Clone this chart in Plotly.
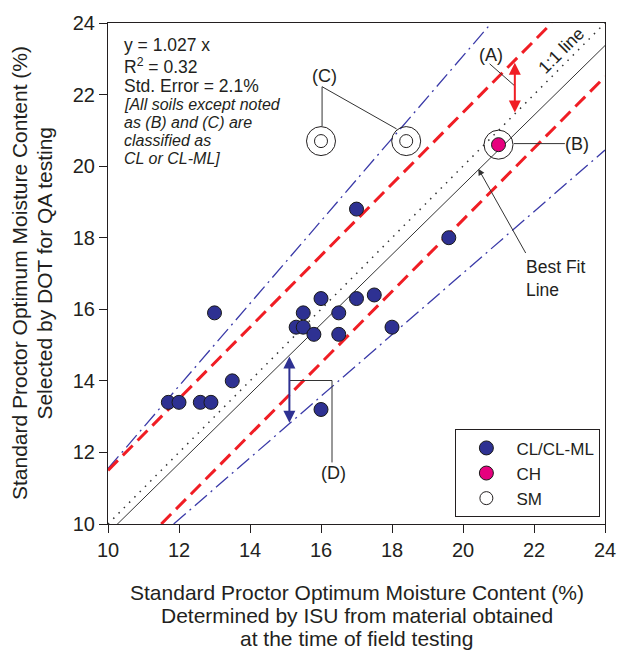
import plotly.graph_objects as go

# ---------------- data ----------------
cl_x = [11.7, 12.0, 12.6, 12.9, 13.0, 13.5, 15.3, 15.5, 15.5, 15.8, 16.0, 16.0, 16.5, 16.5, 17.0, 17.0, 17.5, 18.0, 19.6]
cl_y = [13.4, 13.4, 13.4, 13.4, 15.9, 14.0, 15.5, 15.5, 15.9, 15.3, 16.3, 13.2, 15.9, 15.3, 16.3, 18.8, 16.4, 15.5, 18.0]
ch_x = [21.0]
ch_y = [20.6]
sm_x = [16.0, 18.4]
sm_y = [20.7, 20.7]

line_1to1_x = [10, 24]
line_1to1_y = [10, 24]
fit_x = [10, 24]
fit_y = [9.74, 23.37]
red_up_x = [10, 22.5]
red_up_y = [11.5, 24]
red_lo_x = [11.5, 24]
red_lo_y = [10, 22.5]
blue_up_x = [10, 20.8]
blue_up_y = [11.55, 24]
blue_lo_x = [11.85, 24]
blue_lo_y = [10, 20.45]

ticks = [10, 12, 14, 16, 18, 20, 22, 24]
tick_text = [str(t) for t in ticks]

x_title_lines = ["Standard Proctor Optimum Moisture Content (%)",
                 "Determined by ISU from material obtained",
                 "at the time of field testing"]
y_title_lines = ["Standard Proctor Optimum Moisture Content (%)",
                 "Selected by DOT for QA testing"]

FONT = "Liberation Sans, Arial, sans-serif"
TXT = "#231f20"
NAVY = "#2e3192"
RED = "#f01d24"
BLUE_LINE = "#3a3aa8"

fig = go.Figure()

# lines
fig.add_trace(go.Scatter(x=blue_up_x, y=blue_up_y, mode="lines", showlegend=False,
                         line=dict(color=BLUE_LINE, width=1.3, dash="16px,5px,2px,5px")))
fig.add_trace(go.Scatter(x=blue_lo_x, y=blue_lo_y, mode="lines", showlegend=False,
                         line=dict(color=BLUE_LINE, width=1.3, dash="16px,5px,2px,5px")))
fig.add_trace(go.Scatter(x=red_up_x, y=red_up_y, mode="lines", showlegend=False,
                         line=dict(color=RED, width=3, dash="14px,7px")))
fig.add_trace(go.Scatter(x=red_lo_x, y=red_lo_y, mode="lines", showlegend=False,
                         line=dict(color=RED, width=3, dash="14px,7px")))
fig.add_trace(go.Scatter(x=line_1to1_x, y=line_1to1_y, mode="lines", showlegend=False,
                         line=dict(color="#333333", width=1.5, dash="1.5px,6px")))
fig.add_trace(go.Scatter(x=fit_x, y=fit_y, mode="lines", showlegend=False,
                         line=dict(color="#333333", width=1)))

# rings around highlighted points
fig.add_trace(go.Scatter(x=sm_x + ch_x, y=sm_y + ch_y, mode="markers", showlegend=False,
                         marker=dict(size=29, color="rgba(0,0,0,0)", line=dict(color="#231f20", width=1))))

# data points
fig.add_trace(go.Scatter(x=cl_x, y=cl_y, mode="markers", name="CL/CL-ML",
                         marker=dict(size=14, color=NAVY, line=dict(color="#1a1a1a", width=1))))
fig.add_trace(go.Scatter(x=ch_x, y=ch_y, mode="markers", name="CH",
                         marker=dict(size=14, color="#e6007e", line=dict(color="#1a1a1a", width=1))))
fig.add_trace(go.Scatter(x=sm_x, y=sm_y, mode="markers", name="SM",
                         marker=dict(size=13, color="white", line=dict(color="#231f20", width=1))))

ann = []
def text(x, y, s, size=17.5, xanchor="center", italic=False, angle=0):
    if italic:
        s = "<i>" + s + "</i>"
    ann.append(dict(x=x, y=y, xref="x", yref="y", text=s, showarrow=False,
                    xanchor=xanchor, yanchor="middle", textangle=angle,
                    font=dict(family=FONT, size=size, color=TXT)))

# stats block
text(10.39, 23.39, "y = 1.027 x", xanchor="left")
text(10.39, 22.81, "R<sup>2</sup> = 0.32", xanchor="left")
text(10.39, 22.23, "Std. Error = 2.1%", xanchor="left")
text(10.39, 21.73, "[All soils except noted", size=16, xanchor="left", italic=True)
text(10.39, 21.23, "as (B) and (C) are", size=16, xanchor="left", italic=True)
text(10.39, 20.71, "classified as", size=16, xanchor="left", italic=True)
text(10.39, 20.21, "CL or CL-ML]", size=16, xanchor="left", italic=True)

text(16.09, 22.51, "(C)", size=18)
text(20.8, 23.1, "(A)", size=18)
text(23.2, 20.63, "(B)", size=18)
text(22.75, 23.22, "1:1 line", angle=-45)
ann.append(dict(x=21.71, y=16.86, xref="x", yref="y", text="Best Fit<br>Line", showarrow=False,
                xanchor="left", yanchor="middle", align="left",
                font=dict(family=FONT, size=17.5, color=TXT)))
text(16.34, 11.42, "(D)", size=18)

# axis titles (one annotation per line)
for i, s in enumerate(x_title_lines):
    ann.append(dict(x=0.5, y=-0.1364 - i * 0.0464, xref="paper", yref="paper", text=s, showarrow=False,
                    xanchor="center", yanchor="middle", font=dict(family=FONT, size=21, color=TXT)))
for i, s in enumerate(y_title_lines):
    ann.append(dict(x=-0.178 + i * 0.0494, y=0.5, xref="paper", yref="paper", text=s, showarrow=False,
                    xanchor="center", yanchor="middle", textangle=-90,
                    font=dict(family=FONT, size=21, color=TXT)))

# Best fit leader arrow
ann.append(dict(x=20.43, y=19.93, ax=21.79, ay=17.53, xref="x", yref="y", axref="x", ayref="y",
                text="", showarrow=True, arrowhead=2, arrowsize=1.3, arrowwidth=1, arrowcolor="#333333"))
# double arrows (A) red and (D) blue
ann.append(dict(x=21.46, y=21.50, ax=21.46, ay=22.93, xref="x", yref="y", axref="x", ayref="y",
                text="", showarrow=True, arrowhead=2, startarrowhead=2, arrowside="end+start",
                arrowsize=1.2, startarrowsize=1.2, arrowwidth=2, arrowcolor=RED))
ann.append(dict(x=15.11, y=12.83, ax=15.11, ay=14.72, xref="x", yref="y", axref="x", ayref="y",
                text="", showarrow=True, arrowhead=2, startarrowhead=2, arrowside="end+start",
                arrowsize=1.2, startarrowsize=1.2, arrowwidth=2, arrowcolor=NAVY))

shapes = []
def seg(x0, y0, x1, y1):
    shapes.append(dict(type="line", xref="x", yref="y", x0=x0, y0=y0, x1=x1, y1=y1,
                       line=dict(color="#333333", width=1)))
# (C) leaders
seg(16.03, 22.22, 16.03, 21.12)
seg(16.03, 22.22, 18.13, 21.04)
# (A) leader
seg(20.75, 22.86, 21.46, 22.24)
# (B) leader
seg(21.43, 20.63, 22.87, 20.63)
# (D) leaders
seg(15.11, 14.01, 16.31, 14.01)
seg(16.31, 14.01, 16.31, 11.72)

axis_common = dict(range=[10, 24], tickvals=ticks, ticktext=tick_text, ticks="outside", ticklen=8,
                   tickwidth=1, tickcolor="#231f20", showline=True, linecolor="#231f20", linewidth=1.2,
                   mirror=True, showgrid=False, zeroline=False,
                   tickfont=dict(family=FONT, size=20, color=TXT))

fig.update_layout(
    width=628, height=651,
    margin=dict(l=108, r=14, t=18, b=127),
    paper_bgcolor="white", plot_bgcolor="white",
    xaxis=dict(**axis_common),
    yaxis=dict(**axis_common),
    legend=dict(x=0.9907, y=0.0132, xanchor="right", yanchor="bottom",
                bordercolor="#231f20", borderwidth=1, bgcolor="white",
                font=dict(family=FONT, size=17, color=TXT), itemwidth=50),
    annotations=ann, shapes=shapes,
)

fig.write_html("out.html", config={"displayModeBar": False},
               post_script="document.body.style.margin='0px';document.body.style.overflow='hidden';")
